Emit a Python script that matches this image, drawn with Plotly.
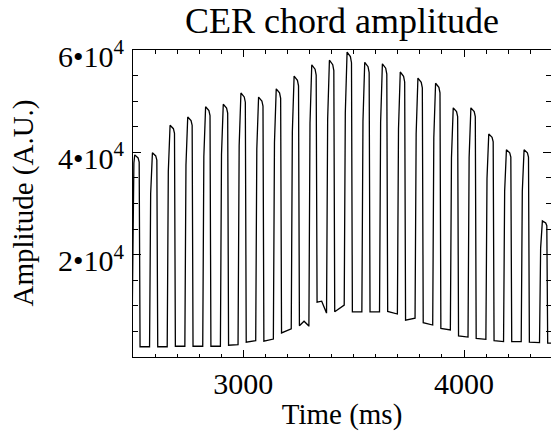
import plotly.graph_objects as go

# ---- data ----
# rise time of each beam pulse (ms)
pulse_rise_ms = [2495, 2575, 2655, 2735, 2816, 2896, 2976, 3056, 3136, 3217, 3297, 3377,
                 3457, 3537, 3617, 3698, 3778, 3858, 3938, 4018, 4099, 4179, 4259, 4342]
# peak amplitude of each pulse (A.U.)
pulse_peak = [39500, 39900, 45300, 46900, 48900, 49400, 51600, 50800, 52400, 54900, 57100, 58000,
              59600, 57600, 57300, 55700, 54500, 53500, 48700, 48700, 43600, 40500, 40500, 26600]
# background level in the gap after each pulse: start / middle / end (A.U.)
gap_start = [2000, 2000, 2100, 2100, 2100, 2300, 2900, 3100, 4700, 6100, 10700, 8850,
             8800, 8800, 8900, 7200, 6700, 5600, 4100, 3650, 3200, 3000, 2900, 2700]
gap_mid = [2000, 2000, 2100, 2100, 2100, 2350, 3050, 3300, 5100, 7000, 10900, 9500,
           8800, 8800, 8650, 7400, 6500, 5450, 4000, 3550, 3100, 3000, 2850, 2700]
gap_end = [2000, 2000, 2100, 2100, 2100, 2400, 3200, 3500, 5500, 6100, 8700, 10150,
           8800, 8800, 8400, 7600, 6250, 5300, 3900, 3450, 3000, 3000, 2800, 2700]

x_range = [2500, 4394]
y_range = [0, 60000]
y_tick_vals = [0, 20000, 40000, 60000]
y_tick_text = ["", "2•10<sup>4</sup>", "4•10<sup>4</sup>", "6•10<sup>4</sup>"]

# ---- build the sampled waveform (pulse shape offsets in ms, fraction of peak) ----
rise_shape = [(5, 0.80), (9, 0.96), (13, 1.0), (28, 0.985), (33, 0.965)]
t, a = [], []
prev_end = gap_start[0]
for i, t0 in enumerate(pulse_rise_ms):
    t.append(t0); a.append(prev_end)
    for dt, f in rise_shape:
        t.append(t0 + dt); a.append(pulse_peak[i] * f)
    t.append(t0 + 37); a.append(gap_start[i])
    t.append(t0 + 58); a.append(gap_mid[i])
    t.append(t0 + 79); a.append(gap_end[i])
    prev_end = gap_end[i]

FONT = "Liberation Serif"
TICK_SIZE = 30
fig = go.Figure()
fig.add_trace(go.Scatter(x=t, y=a, mode="lines", line=dict(color="black", width=1.3),
                         showlegend=False, hoverinfo="skip"))
# invisible trace to carry right-hand tick axis
fig.add_trace(go.Scatter(x=[x_range[0]], y=[y_range[0]], yaxis="y2", mode="markers",
                         marker=dict(opacity=0), showlegend=False, hoverinfo="skip"))

fig.update_layout(
    width=551, height=431,
    margin=dict(l=133, r=0, t=50, b=74),
    paper_bgcolor="white", plot_bgcolor="white",
    font=dict(family=FONT, color="black", size=28),
    title=dict(text="CER chord amplitude", x=0.5, xref="paper", xanchor="center",
               y=1 - 20 / 431, yref="container", yanchor="middle",
               font=dict(family=FONT, size=36, color="black")),
    xaxis=dict(range=x_range, showgrid=False, zeroline=False, showline=True,
               linecolor="black", linewidth=1, mirror="ticks",
               ticks="inside", ticklen=7, tickwidth=1, tickcolor="black",
               tickmode="linear", tick0=0, dtick=1000,
               minor=dict(tickmode="linear", tick0=0, dtick=100, ticks="inside",
                          ticklen=3.5, tickwidth=1, tickcolor="black"),
               tickfont=dict(family=FONT, size=TICK_SIZE),
               title=dict(text="Time (ms)", font=dict(family=FONT, size=29), standoff=6)),
    yaxis=dict(range=y_range, showgrid=False, zeroline=False, showline=True,
               linecolor="black", linewidth=1, mirror=False,
               ticks="inside", ticklen=8, tickwidth=1, tickcolor="black",
               tickmode="array", tickvals=y_tick_vals, ticktext=y_tick_text,
               ticklabelshift=6, ticklabelstandoff=2,
               minor=dict(tickmode="linear", tick0=0, dtick=5000, ticks="inside",
                          ticklen=5, tickwidth=1, tickcolor="black"),
               tickfont=dict(family=FONT, size=TICK_SIZE)),
    yaxis2=dict(range=y_range, overlaying="y", side="right", showgrid=False, zeroline=False,
                showline=False, showticklabels=False,
                ticks="inside", ticklen=8, tickwidth=1, tickcolor="black",
                tickmode="array", tickvals=y_tick_vals,
                minor=dict(tickmode="linear", tick0=0, dtick=5000, ticks="inside",
                           ticklen=5, tickwidth=1, tickcolor="black")),
    annotations=[dict(text="Amplitude (A.U.)", xref="paper", yref="paper",
                      x=(23 - 133) / 418, y=0.5, xanchor="center", yanchor="middle",
                      textangle=-90, showarrow=False,
                      font=dict(family=FONT, size=29, color="black"))],
)
fig.write_html("out.html")
